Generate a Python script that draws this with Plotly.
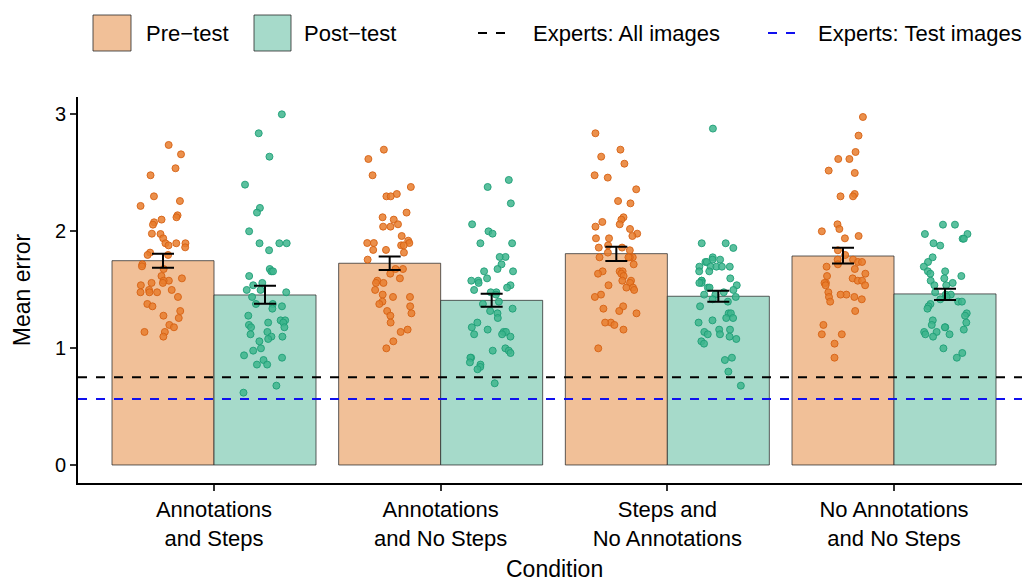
import numpy as np
import plotly.graph_objects as go

conditions = ["Annotations<br>and Steps", "Annotations<br>and No Steps",
              "Steps and<br>No Annotations", "No Annotations<br>and No Steps"]

pre_mean = [1.746, 1.724, 1.806, 1.786]
pre_lo = [1.686, 1.667, 1.744, 1.721]
pre_hi = [1.806, 1.781, 1.866, 1.857]
post_mean = [1.453, 1.407, 1.442, 1.462]
post_lo = [1.379, 1.353, 1.396, 1.410]
post_hi = [1.532, 1.464, 1.490, 1.507]

expert_all = 0.749
expert_test = 0.564

pre_points = [
    [2.735, 2.655, 2.536, 2.476, 2.296, 2.256, 2.214, 2.134, 2.117, 2.097, 2.074, 2.054,
     1.977, 1.974, 1.937, 1.895, 1.895, 1.895, 1.877, 1.860, 1.815, 1.795, 1.795, 1.715,
     1.698, 1.675, 1.615, 1.595, 1.575, 1.575, 1.556, 1.556, 1.536, 1.496, 1.496, 1.476,
     1.476, 1.476, 1.436, 1.376, 1.356, 1.316, 1.276, 1.256, 1.197, 1.177, 1.137, 1.137, 1.097],
    [2.695, 2.615, 2.476, 2.376, 2.316, 2.296, 2.296, 2.157, 2.117, 2.097, 2.057, 2.037,
     2.037, 1.957, 1.917, 1.897, 1.897, 1.897, 1.877, 1.877, 1.838, 1.838, 1.815, 1.755,
     1.675, 1.675, 1.635, 1.595, 1.575, 1.556, 1.556, 1.496, 1.456, 1.436, 1.436, 1.396,
     1.376, 1.356, 1.316, 1.296, 1.276, 1.217, 1.157, 1.137, 1.057, 0.997],
    [2.835, 2.695, 2.635, 2.575, 2.476, 2.456, 2.356, 2.256, 2.236, 2.117, 2.097, 2.077,
     2.057, 2.037, 2.017, 1.977, 1.957, 1.937, 1.937, 1.877, 1.858, 1.858, 1.835, 1.815,
     1.775, 1.775, 1.775, 1.775, 1.715, 1.655, 1.655, 1.655, 1.635, 1.635, 1.615, 1.575,
     1.575, 1.556, 1.536, 1.516, 1.516, 1.496, 1.456, 1.436, 1.356, 1.336, 1.316, 1.296,
     1.217, 1.217, 1.197, 1.157, 0.997],
    [2.974, 2.815, 2.675, 2.615, 2.615, 2.516, 2.496, 2.316, 2.296, 2.296, 2.057, 2.017,
     1.997, 1.957, 1.937, 1.835, 1.795, 1.755, 1.755, 1.735, 1.735, 1.715, 1.695, 1.675,
     1.635, 1.615, 1.595, 1.575, 1.575, 1.556, 1.556, 1.536, 1.536, 1.476, 1.456, 1.456,
     1.436, 1.436, 1.416, 1.396, 1.316, 1.197, 1.117, 1.117, 1.037, 0.917],
]

post_points = [
    [2.997, 2.835, 2.635, 2.396, 2.197, 2.157, 1.997, 1.895, 1.895, 1.895, 1.835, 1.675,
     1.655, 1.655, 1.615, 1.556, 1.536, 1.496, 1.496, 1.476, 1.436, 1.376, 1.376, 1.356,
     1.336, 1.276, 1.236, 1.236, 1.217, 1.217, 1.197, 1.177, 1.177, 1.137, 1.117, 1.097,
     1.097, 1.077, 1.057, 0.997, 0.977, 0.937, 0.917, 0.897, 0.858, 0.858, 0.678, 0.618],
    [2.436, 2.376, 2.236, 2.057, 1.997, 1.977, 1.895, 1.895, 1.778, 1.778, 1.715, 1.675,
     1.655, 1.655, 1.595, 1.575, 1.575, 1.556, 1.536, 1.516, 1.496, 1.476, 1.476, 1.456,
     1.396, 1.376, 1.336, 1.316, 1.296, 1.256, 1.217, 1.177, 1.157, 1.137, 1.137, 1.117,
     1.117, 1.097, 0.997, 0.977, 0.977, 0.957, 0.917, 0.917, 0.877, 0.858, 0.838, 0.818, 0.698],
    [2.875, 1.895, 1.895, 1.855, 1.775, 1.755, 1.755, 1.735, 1.735, 1.695, 1.695, 1.695,
     1.695, 1.695, 1.655, 1.655, 1.595, 1.575, 1.575, 1.556, 1.556, 1.536, 1.516, 1.516,
     1.496, 1.476, 1.456, 1.456, 1.436, 1.416, 1.396, 1.356, 1.296, 1.296, 1.256, 1.256,
     1.236, 1.217, 1.157, 1.157, 1.137, 1.117, 1.117, 1.097, 1.077, 1.057, 1.037, 0.917,
     0.897, 0.798, 0.678],
    [2.054, 2.054, 1.974, 1.974, 1.934, 1.934, 1.895, 1.875, 1.775, 1.735, 1.695, 1.655,
     1.655, 1.635, 1.615, 1.595, 1.575, 1.556, 1.536, 1.536, 1.476, 1.456, 1.456, 1.436,
     1.416, 1.396, 1.396, 1.376, 1.356, 1.336, 1.296, 1.276, 1.236, 1.217, 1.197, 1.177,
     1.177, 1.157, 1.137, 1.137, 1.117, 1.117, 1.097, 0.997, 0.957, 0.917],
]

PRE_FILL = "#F1C098"
POST_FILL = "#A6DACA"
PRE_PT = "rgba(232,125,45,0.85)"
PRE_PT_LINE = "rgba(214,98,20,0.9)"
POST_PT = "rgba(62,181,141,0.85)"
POST_PT_LINE = "rgba(30,158,119,0.9)"
FONT = "Liberation Sans"

dodge = 0.225
barw = 0.45
jit = 0.1
idx = np.arange(1, len(conditions) + 1)
rng = np.random.default_rng(7)

fig = go.Figure()
fig.add_trace(go.Bar(x=idx - dodge, y=pre_mean, width=barw, marker=dict(color=PRE_FILL,
              line=dict(color="rgba(40,40,40,0.75)", width=1)), showlegend=False))
fig.add_trace(go.Bar(x=idx + dodge, y=post_mean, width=barw, marker=dict(color=POST_FILL,
              line=dict(color="rgba(40,40,40,0.75)", width=1)), showlegend=False))

for i in range(len(conditions)):
    for pts, off, fc, lc in [(pre_points[i], -dodge, PRE_PT, PRE_PT_LINE),
                             (post_points[i], dodge, POST_PT, POST_PT_LINE)]:
        xs = idx[i] + off + rng.uniform(-jit, jit, len(pts))
        fig.add_trace(go.Scatter(x=xs, y=pts, mode="markers", showlegend=False,
                                 marker=dict(size=7, color=fc, line=dict(color=lc, width=1))))

for means, lo, hi, off in [(pre_mean, pre_lo, pre_hi, -dodge), (post_mean, post_lo, post_hi, dodge)]:
    m = np.array(means)
    fig.add_trace(go.Scatter(
        x=idx + off, y=m, mode="markers", marker=dict(size=1, color="rgba(0,0,0,0)"),
        showlegend=False,
        error_y=dict(type="data", symmetric=False, array=np.array(hi) - m,
                     arrayminus=m - np.array(lo), color="black", thickness=2, width=11)))

fig.add_shape(type="line", xref="paper", yref="y", x0=0, x1=1, y0=expert_all, y1=expert_all,
              line=dict(color="black", width=2, dash="dash"))
fig.add_shape(type="line", xref="paper", yref="y", x0=0, x1=1, y0=expert_test, y1=expert_test,
              line=dict(color="#1010ee", width=2, dash="dash"))

# page body adds an 8px offset; lay the figure out in window pixels minus that offset
OFF = 8
FW, FH = 1030 - OFF, 582 - OFF
L, T, W, H = 78 - OFF, 97 - OFF, 952, 386
def px(x):
    return (x - OFF - L) / W
def py(y):
    return (T + H - (y - OFF)) / H

legend_items = [("Pre−test", "box", PRE_FILL, 93, 131, 144),
                ("Post−test", "box", POST_FILL, 254, 291, 302),
                ("Experts: All images", "dash", "black", 478, 510, 531),
                ("Experts: Test images", "dash", "#1010ee", 768, 800, 816)]
for label, kind, col, x0, x1, tx in legend_items:
    if kind == "box":
        fig.add_shape(type="rect", xref="paper", yref="paper", x0=px(x0), x1=px(x1),
                      y0=py(51), y1=py(15), fillcolor=col,
                      line=dict(color="rgba(40,40,40,0.8)", width=1))
    else:
        fig.add_shape(type="line", xref="paper", yref="paper", x0=px(x0), x1=px(x1),
                      y0=py(33), y1=py(33), line=dict(color=col, width=2, dash="dash"))
    fig.add_annotation(text=label, xref="paper", yref="paper", x=px(tx), y=py(33),
                       xanchor="left", yanchor="middle", showarrow=False,
                       font=dict(family=FONT, size=22, color="black"))

# x-axis title
fig.add_annotation(text="Condition", xref="paper", yref="paper", x=0.5, y=py(569),
                   xanchor="center", yanchor="middle", showarrow=False,
                   font=dict(family=FONT, size=23, color="black"))

fig.update_layout(
    width=FW, height=FH,
    margin=dict(l=L, r=FW - L - W, t=T, b=FH - T - H, autoexpand=False),
    plot_bgcolor="white", paper_bgcolor="white", barmode="overlay",
    font=dict(family=FONT, color="black"),
    xaxis=dict(range=[0.4, 4.6], tickvals=list(idx), ticktext=conditions,
               showline=True, linecolor="black", linewidth=2, ticks="outside",
               ticklen=6, tickwidth=2, tickcolor="#333", showgrid=False, zeroline=False,
               automargin=False,
               tickfont=dict(family=FONT, size=22, color="black")),
    yaxis=dict(range=[-0.154, 3.145], tickvals=[0, 1, 2, 3],
               showline=True, linecolor="black", linewidth=2, ticks="outside",
               ticklen=6, tickwidth=2, tickcolor="#333", showgrid=False, zeroline=False,
               automargin=False,
               tickfont=dict(family=FONT, size=20, color="black"),
               title=dict(text="Mean error", font=dict(family=FONT, size=23), standoff=18)),
)

fig.write_html("out.html")
